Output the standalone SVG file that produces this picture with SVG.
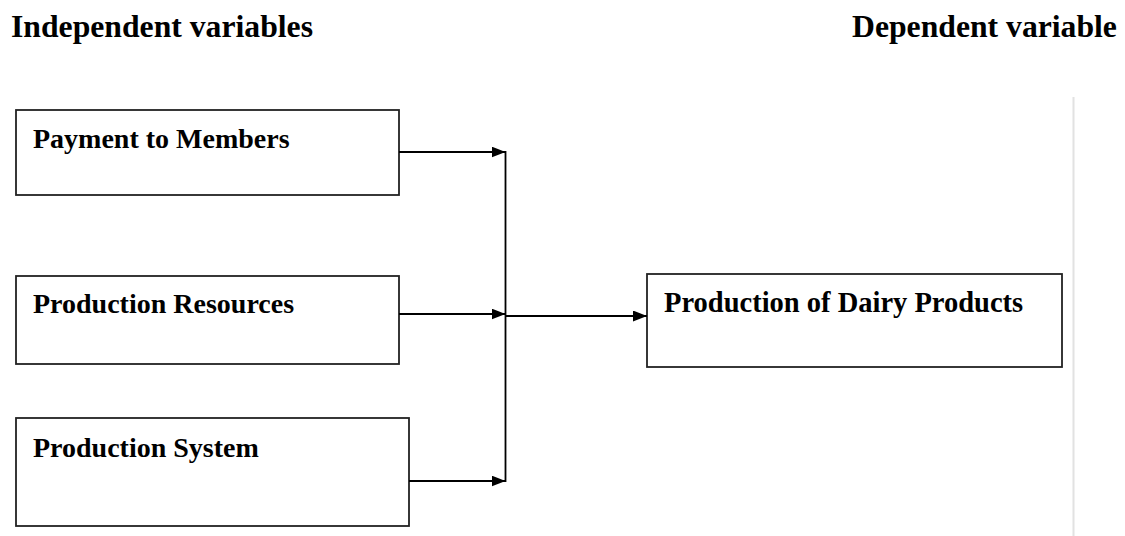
<svg xmlns="http://www.w3.org/2000/svg" width="1125" height="536" viewBox="0 0 1125 536">
<style>
.box{fill:#fff;stroke:#222;stroke-width:1.8}
.lbl{font-family:"Liberation Serif","Times New Roman",serif;font-weight:bold;font-size:28px;fill:#000}
.hdr{font-family:"Liberation Serif","Times New Roman",serif;font-weight:bold;font-size:31.7px;fill:#000}
.conn{stroke:#000;stroke-width:1.8;fill:none}
</style>
<defs>
<marker id="ah" markerWidth="14" markerHeight="11" refX="14" refY="5.5" orient="auto" markerUnits="userSpaceOnUse">
<path d="M0,0 L14,5.5 L0,11 Z" fill="#000"/>
</marker>
</defs>
<rect width="1125" height="536" fill="#fff"/>
<line x1="1073.5" y1="97" x2="1073.5" y2="536" stroke="#e2e2e2" stroke-width="2"/>
<text class="hdr" x="11" y="37">Independent variables</text>
<text class="hdr" x="852" y="37">Dependent variable</text>
<g id="node-payment">
<rect class="box" x="16" y="110" width="383" height="85"/>
<text class="lbl" x="33" y="148">Payment to Members</text>
</g>
<g id="node-resources">
<rect class="box" x="16" y="276" width="383" height="88"/>
<text class="lbl" x="33" y="313">Production Resources</text>
</g>
<g id="node-system">
<rect class="box" x="16" y="418" width="393" height="108"/>
<text class="lbl" x="33" y="457">Production System</text>
</g>
<g id="node-dairy">
<rect class="box" x="647" y="274" width="415" height="93"/>
<text class="lbl" x="664" y="312" style="font-size:28.5px">Production of Dairy Products</text>
</g>
<g id="connectors">
<line class="conn" x1="399" y1="152" x2="505.5" y2="152" marker-end="url(#ah)"/>
<line class="conn" x1="399" y1="314" x2="505.5" y2="314" marker-end="url(#ah)"/>
<line class="conn" x1="409" y1="481" x2="505.5" y2="481" marker-end="url(#ah)"/>
<line class="conn" x1="505.5" y1="151.1" x2="505.5" y2="481.9"/>
<line class="conn" x1="505.5" y1="316" x2="647" y2="316" marker-end="url(#ah)"/>
</g>
</svg>
